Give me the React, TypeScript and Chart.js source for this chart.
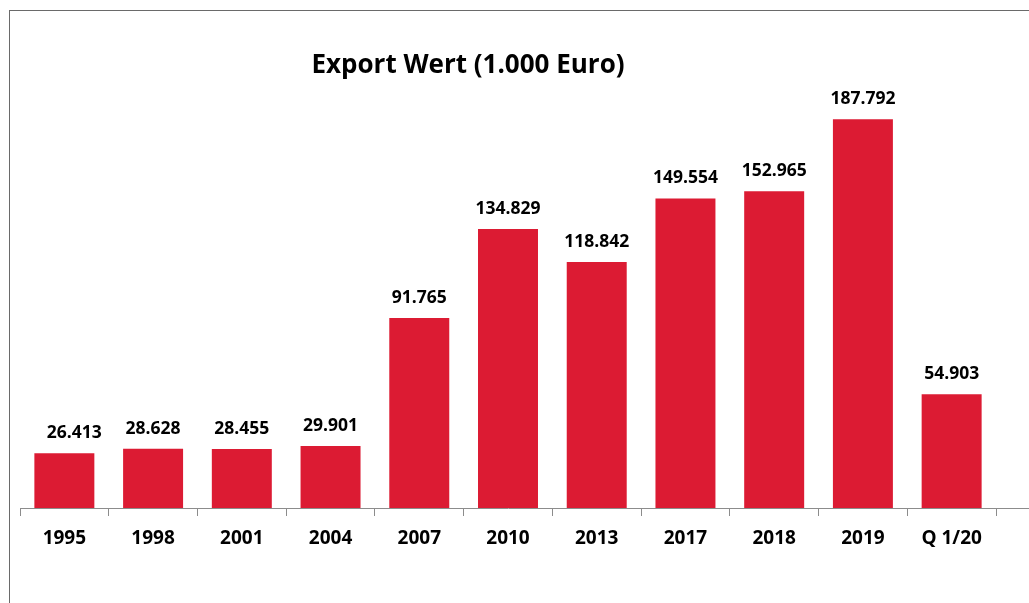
import React, { useEffect, useRef } from "react";
import { Chart, registerables } from "chart.js";

Chart.register(...registerables);

const categories = ["1995", "1998", "2001", "2004", "2007", "2010", "2013", "2017", "2018", "2019", "Q 1/20"];
const exportValues = [26.413, 28.628, 28.455, 29.901, 91.765, 134.829, 118.842, 149.554, 152.965, 187.792, 54.903];
const valueLabels = ["26.413", "28.628", "28.455", "29.901", "91.765", "134.829", "118.842", "149.554", "152.965", "187.792", "54.903"];
const titleText = "Export Wert (1.000 Euro)";

const FONT = "'Open Sans', Lato, sans-serif";

const overlayPlugin = {
  id: "overlay",
  afterDatasetsDraw(chart: any) {
    const ctx = chart.ctx;
    const meta = chart.getDatasetMeta(0);
    ctx.save();
    ctx.fillStyle = "#000";
    ctx.font = `bold 17.5px ${FONT}`;
    ctx.textAlign = "center";
    ctx.textBaseline = "alphabetic";
    meta.data.forEach((bar: any, i: number) => {
      const dx = i === 0 ? 10 : 0;
      ctx.fillText(valueLabels[i], bar.x + dx, bar.y - 15);
    });
    // title
    ctx.font = `bold 26px ${FONT}`;
    ctx.fillText(titleText, 468, 73);
    // extend x axis line to right edge
    const { chartArea } = chart;
    ctx.strokeStyle = "#8c8c8c";
    ctx.lineWidth = 1;
    ctx.beginPath();
    ctx.moveTo(chartArea.right, Math.round(chartArea.bottom) + 0.5);
    ctx.lineTo(chart.width, Math.round(chartArea.bottom) + 0.5);
    ctx.stroke();
    ctx.restore();
  },
};

export default function App() {
  const canvasRef = useRef<HTMLCanvasElement>(null);

  useEffect(() => {
    if (!canvasRef.current) return;
    const chart = new Chart(canvasRef.current, {
      type: "bar",
      data: {
        labels: categories,
        datasets: [
          {
            label: "Export Wert",
            data: exportValues,
            backgroundColor: "#DC1B33",
            borderWidth: 0,
            categoryPercentage: 1,
            barPercentage: 0.676,
          },
        ],
      },
      options: {
        animation: false,
        responsive: false,
        layout: { padding: { left: 20, right: 33, top: 94, bottom: 0 } },
        plugins: {
          legend: { display: false },
          tooltip: { enabled: false },
          title: { display: false },
        },
        scales: {
          x: {
            afterFit: (scale: any) => {
              scale.height = 95;
            },
            grid: {
              display: true,
              drawOnChartArea: false,
              drawTicks: true,
              tickLength: 8,
              color: "#8c8c8c",
            },
            border: { display: true, color: "#8c8c8c", width: 1 },
            ticks: {
              color: "#000",
              font: { family: FONT, size: 19, weight: "bold" },
              padding: 11,
            },
          },
          y: {
            display: false,
            min: 0,
            max: 200,
          },
        },
      },
      plugins: [overlayPlugin],
    });
    return () => chart.destroy();
  }, []);

  return (
    <div style={{ position: "fixed", left: 0, top: 0, width: 1029, height: 603, background: "#fff" }}>
      <div
        style={{
          position: "absolute",
          left: 9,
          top: 10,
          width: 1020,
          height: 593,
          borderTop: "1.5px solid #6a6a6a",
          borderLeft: "1.5px solid #6a6a6a",
          boxSizing: "border-box",
        }}
      />
      <canvas ref={canvasRef} width={1029} height={603} style={{ position: "absolute", left: 0, top: 0 }} />
    </div>
  );
}
